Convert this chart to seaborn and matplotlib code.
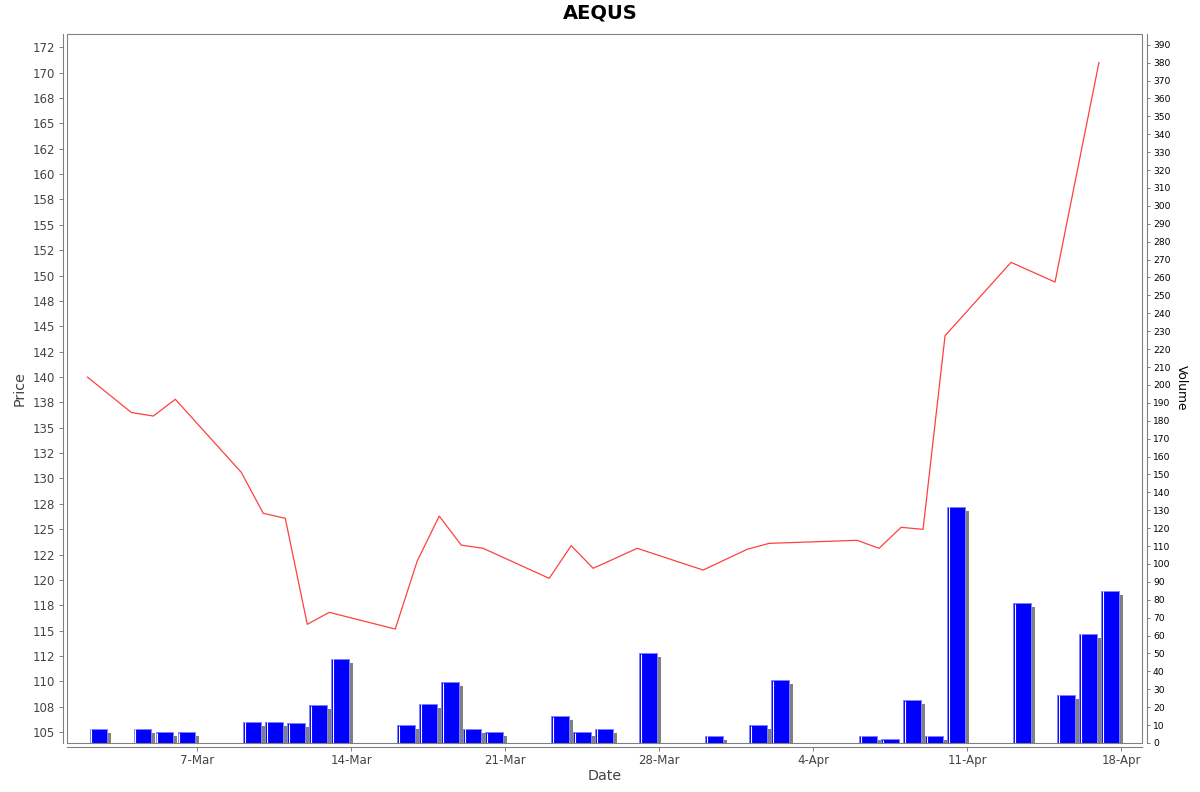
import numpy as np
import pandas as pd
import matplotlib
matplotlib.use("Agg")
import matplotlib.pyplot as plt
import matplotlib.dates as mdates
import matplotlib.transforms as mtransforms
from matplotlib.patches import Rectangle
import seaborn as sns

# ---------------- data ----------------
dates = ['2026-03-02', '2026-03-04', '2026-03-05', '2026-03-06', '2026-03-09',
         '2026-03-10', '2026-03-11', '2026-03-12', '2026-03-13', '2026-03-16',
         '2026-03-17', '2026-03-18', '2026-03-19', '2026-03-20', '2026-03-23',
         '2026-03-24', '2026-03-25', '2026-03-27', '2026-03-30', '2026-04-01',
         '2026-04-02', '2026-04-06', '2026-04-07', '2026-04-08', '2026-04-09',
         '2026-04-10', '2026-04-13', '2026-04-15', '2026-04-16', '2026-04-17']
price = [140.0, 136.5, 136.15, 137.8, 130.6,
         126.56, 126.07, 115.62, 116.8, 115.15,
         121.86, 126.29, 123.43, 123.11, 120.15,
         123.37, 121.14, 123.11, 120.97, 123.01,
         123.6, 123.9, 123.11, 125.18, 124.98,
         144.07, 151.3, 149.36, np.nan, 171.02]
volume = [8, 8, 6, 6, 12,
          12, 11, 21, 47, 10,
          22, 34, 8, 6, 15,
          6, 8, 50, 4, 10,
          35, 4, 2, 24, 4,
          132, 78, 27, 61, 85]

price_ticks = list(np.arange(105, 173, 2.5))
price_tick_labels = ['105', '108', '110', '112', '115', '118', '120', '122', '125',
                     '128', '130', '132', '135', '138', '140', '142', '145', '148',
                     '150', '152', '155', '158', '160', '162', '165', '168', '170', '172']
volume_ticks = list(range(0, 391, 10))
date_ticks = ['2026-03-07', '2026-03-14', '2026-03-21', '2026-03-28',
              '2026-04-04', '2026-04-11', '2026-04-18']
date_tick_labels = ['7-Mar', '14-Mar', '21-Mar', '28-Mar', '4-Apr', '11-Apr', '18-Apr']

title = 'AEQUS'

# ---------------- style ----------------
sns.set_theme(style='white')
plt.rcParams['font.family'] = ['DejaVu Sans']

W, H = 1200, 792
fig = plt.figure(figsize=(W / 100, H / 100), dpi=100)
fig.patch.set_facecolor('white')

L, R, T, B = 67, 1142, 34, 743
ax = fig.add_axes([L / W, (H - B) / H, (R - L) / W, (B - T) / H])
ax2 = ax.twinx()
ax.set_zorder(ax2.get_zorder() + 1)
ax.patch.set_visible(False)
ax2.patch.set_facecolor('white')

df = pd.DataFrame({'date': pd.to_datetime(dates), 'price': price, 'volume': volume})
dfp = df.dropna(subset=['price'])

# ---- volume bars (ax2) ----
xnum = mdates.date2num(df['date']) + 0.1
grey = '#808080'
shadow_tr = ax2.transData + mtransforms.ScaledTranslation(4 / 100, -4 / 100, fig.dpi_scale_trans)
sh = ax2.bar(xnum, df['volume'], width=0.8, align='edge', color=grey, linewidth=0)
for p in sh:
    p.set_transform(shadow_tr)
ax2.bar(xnum, df['volume'], width=0.8, align='edge', color='#0000ff',
        edgecolor='#8080ff', linewidth=0.72)
white_tr = ax2.transData + mtransforms.ScaledTranslation(1.6 / 100, 0, fig.dpi_scale_trans)
ax2.vlines(xnum, 0, np.array(df['volume']) - 0.3, colors='white', linewidth=0.8,
           transform=white_tr)

# ---- price line (ax) ----
sns.lineplot(data=dfp, x='date', y='price', ax=ax, color='#ff4040', linewidth=0.9)

# ---- limits ----
x0 = mdates.date2num(pd.Timestamp('2026-03-01')) + 0.075
x1 = mdates.date2num(pd.Timestamp('2026-04-18')) + 0.955
ax.set_xlim(x0, x1)
ax.set_ylim(103.92, 173.81)
ax2.set_ylim(0, 396)

# ---- ticks ----
ax.set_yticks(price_ticks)
ax.set_yticklabels(price_tick_labels)
ax.set_xticks(mdates.date2num(pd.to_datetime(date_ticks)))
ax.set_xticklabels(date_tick_labels)
ax2.set_yticks(volume_ticks)
ax2.set_yticklabels([str(v) for v in volume_ticks])

ax.tick_params(axis='y', which='both', left=True, right=False, direction='out',
               length=3, width=0.72, color=grey, labelsize=8.5,
               labelcolor='#444444', pad=2.5)
ax.tick_params(axis='x', which='both', bottom=True, top=False, direction='out',
               length=3, width=0.72, color=grey, labelsize=8.5,
               labelcolor='#444444', pad=2)
ax2.tick_params(axis='y', which='both', right=True, left=False, direction='out',
                length=2.5, width=0.72, color=grey, labelsize=6.6,
                labelcolor='black', pad=2)

ax.set_xlabel('')
ax.set_ylabel('')
ax2.set_ylabel('')

# ---- spines ----
for s in ['top', 'right']:
    ax.spines[s].set_visible(False)
for s in ['top', 'left', 'bottom']:
    ax2.spines[s].set_visible(False)
ax.spines['left'].set_position(('outward', 2.9))
ax.spines['bottom'].set_position(('outward', 2.7))
ax2.spines['right'].set_position(('outward', 3.4))
for sp in [ax.spines['left'], ax.spines['bottom'], ax2.spines['right']]:
    sp.set_color(grey)
    sp.set_linewidth(0.8)

frame = Rectangle((0, 0), 1, 1, transform=ax.transAxes, fill=False,
                  edgecolor=grey, linewidth=0.8, clip_on=False, zorder=10)
ax.add_patch(frame)

# ---- texts ----
fig.text(600 / W, 1 - 13 / H, title, ha='center', va='center',
         fontsize=14, fontweight='bold', color='black')
fig.text(20 / W, 1 - 389 / H, 'Price', rotation=90, ha='center', va='center',
         fontsize=10.3, color='#444444')
fig.text(605 / W, 1 - 776 / H, 'Date', ha='center', va='center',
         fontsize=10.3, color='#444444')
fig.text(1181.5 / W, 1 - 388 / H, 'Volume', rotation=-90, ha='center', va='center',
         fontsize=8.8, color='black')

fig.savefig('out.png', dpi=100, facecolor='white')
